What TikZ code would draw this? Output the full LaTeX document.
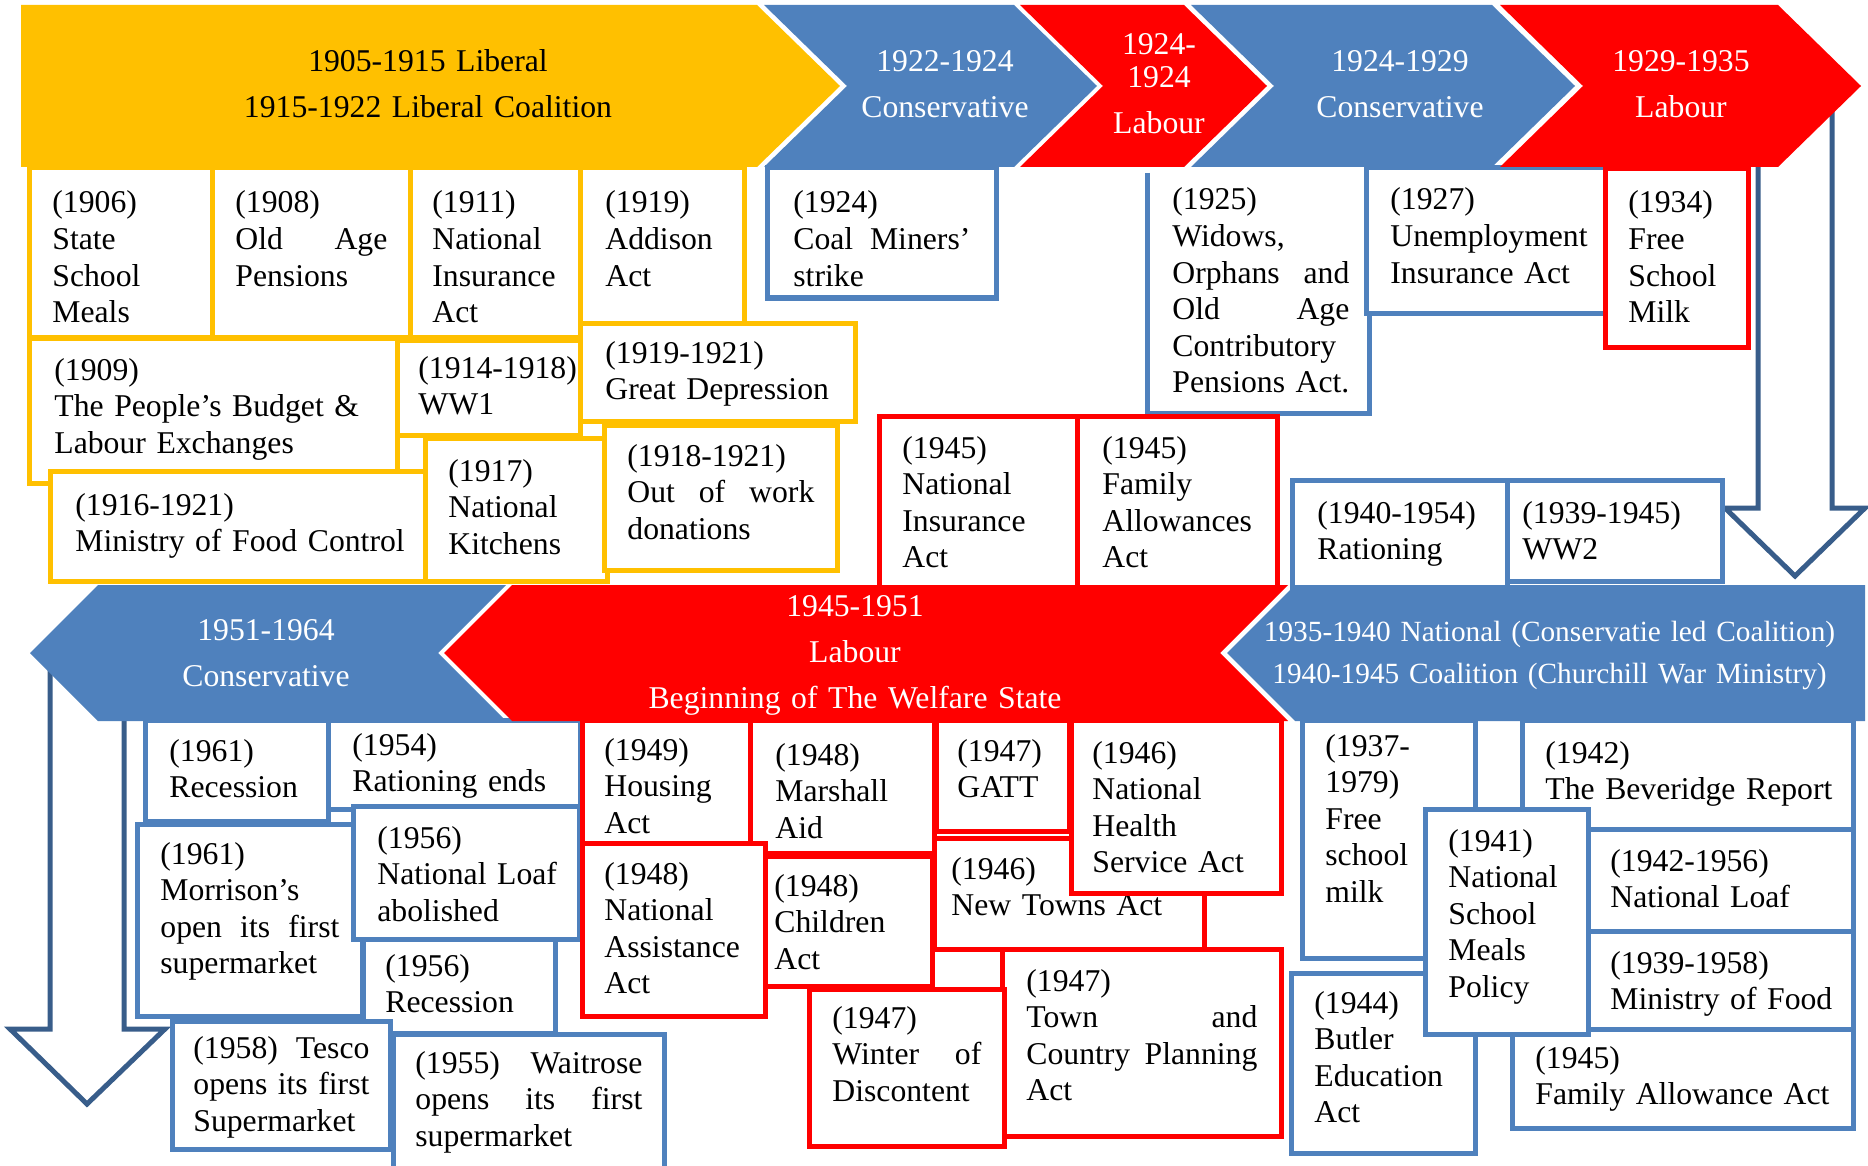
\documentclass[tikz,border=0pt]{standalone}
\usepackage{fontspec}
\setmainfont{Liberation Serif}
\definecolor{yel}{HTML}{FFC000}
\definecolor{blu}{HTML}{4F81BD}
\definecolor{rd}{HTML}{FF0000}
\definecolor{arr}{HTML}{385D8A}
% event box: [left pad]{name}{colour}{x1}{y1}{x2}{y2}{first baseline offset}{text}
\newcommand{\evbox}[9][23]{%
  \draw[evframe, draw=#3] (#4,#5) rectangle (#6,#7);
  \pgfmathsetmacro{\evw}{(#6-#4-2*#1)*0.5}%
  \node[evtext, text width=\evw pt] (#2) at ({#4+#1},{#5+#8}) {#9};%
}
\begin{document}
\begin{tikzpicture}[x=0.5pt,y=-0.5pt,
  evframe/.style={line width=2.5pt, fill=white},
  evtext/.style={anchor=base west, inner sep=0pt,
    font={\fontsize{15.85pt}{18.3pt}\selectfont\hyphenpenalty=10000 \exhyphenpenalty=10000 }},
  chevtext/.style={anchor=base, inner sep=0pt, text width=400pt, align=center, text=white,
    font=\fontsize{15.85pt}{23pt}\selectfont},
  arrowline/.style={draw=arr, line width=2.5pt, fill=white, line join=miter}]
\useasboundingbox (0,0) rectangle (1868,1166);
\clip (0,0) rectangle (1868,1166);

% hollow down arrows
\draw[arrowline] (1758,100) -- (1758,508) -- (1725,508) -- (1795,576) -- (1865,508) -- (1832,508) -- (1832,100) -- cycle;
\draw[arrowline] (50,665) -- (50,1029) -- (10,1029) -- (87,1104) -- (165,1029) -- (124,1029) -- (124,665) -- cycle;

% first period: Liberal
\evbox{e1906}{yel}{29}{168}{212}{337}{45}{(1906)\\State\\School\\Meals}
\evbox{e1908}{yel}{212}{168}{410}{337}{45}{(1908)\\Old\hfill Age\\Pensions}
\evbox[22]{e1911}{yel}{410}{168}{580}{337}{45}{(1911)\\National\\Insurance\\Act}
\evbox[25]{e1919}{yel}{580}{168}{744}{323}{45}{(1919)\\Addison\\Act}
\evbox[25]{e1909}{yel}{29}{338}{397}{483}{42}{(1909)\\The~People’s~Budget~\&\\Labour~Exchanges}
\evbox[21]{e1914}{yel}{397}{340}{580}{435}{38}{(1914-1918)\\WW1}
\evbox[25]{e1919b}{yel}{580}{323}{855}{421}{40}{(1919-1921)\\Great~Depression}
\evbox[25]{e1916}{yel}{50}{471}{427}{581}{44}{(1916-1921)\\Ministry~of~Food~Control}
\evbox{e1917}{yel}{425}{438}{607}{581}{43}{(1917)\\National\\Kitchens}
\evbox{e1918}{yel}{604}{425}{837}{570}{41}{(1918-1921)\\Out\hfill of\hfill work\\donations}

% inter-war
\evbox[26]{e1924}{blu}{767}{168}{996}{298}{45}{(1924)\\Coal\hfill Miners’\\strike}
\fill[white] (1147,170) rectangle (1369,413);
\draw[line width=2.5pt, blu] (1147,173) -- (1147,413) -- (1369,413) -- (1369,168);
\node[evtext, text width=88.5pt] (e1925) at (1172,210)
  {(1925)\\Widows,\\Orphans\hfill and\\Old\hfill Age\\Contributory\\Pensions~Act.};
\evbox[24]{e1927}{blu}{1366}{168}{1607}{313}{42}{(1927)\\Unemployment\\Insurance~Act}
\evbox{e1934}{rd}{1605}{169}{1748}{347}{44}{(1934)\\Free\\School\\Milk}

% war years and 1945
\evbox{e1945a}{rd}{879}{416}{1077}{590}{42}{(1945)\\National\\Insurance\\Act}
\evbox[25]{e1945b}{rd}{1077}{416}{1277}{590}{42}{(1945)\\Family\\Allowances\\Act}
\evbox[25]{e1940}{blu}{1292}{480}{1507}{590}{43}{(1940-1954)\\Rationing}
\evbox[15]{e1939}{blu}{1507}{480}{1722}{581}{43}{(1939-1945)\\WW2}

% 1951-1964
\evbox[24]{e1961a}{blu}{145}{720}{328}{821}{41}{(1961)\\Recession}
\evbox[24]{e1954}{blu}{328}{720}{580}{809}{35}{(1954)\\Rationing~ends}
\evbox{e1961b}{blu}{137}{824}{362}{1016}{40}{(1961)\\Morrison’s\\open\hfill its\hfill first\\supermarket}
\evbox[24]{e1956a}{blu}{353}{806}{579}{939}{42}{(1956)\\National~Loaf\\abolished}
\evbox[22]{e1956b}{blu}{363}{939}{555}{1033}{37}{(1956)\\Recession}
\evbox[21]{e1958}{blu}{172}{1021}{390}{1149}{37}{(1958)\hfill Tesco\\opens\hfill its\hfill first\\Supermarket}
\evbox[22]{e1955}{blu}{393}{1034}{664}{1180}{39}{(1955)\hfill Waitrose\\opens\hfill its\hfill first\\supermarket}

% 1945-1951
\evbox[22]{e1949}{rd}{582}{720}{750}{845}{40}{(1949)\\Housing\\Act}
\evbox[25]{e1948a}{rd}{750}{720}{934}{853}{45}{(1948)\\Marshall\\Aid}
\evbox[21]{e1947a}{rd}{936}{720}{1069}{831}{41}{(1947)\\GATT}
\evbox[17]{e1946b}{rd}{934}{838}{1204}{949}{41}{(1946)\\New~Towns~Act}
\evbox[21]{e1946a}{rd}{1071}{720}{1281}{893}{43}{(1946)\\National\\Health\\Service~Act}
\evbox[22]{e1948b}{rd}{582}{843}{765}{1016}{41}{(1948)\\National\\Assistance\\Act}
\evbox[9]{e1948c}{rd}{765}{856}{932}{986}{40}{(1948)\\Children\\Act}
\evbox[24]{e1947b}{rd}{1002}{949}{1281}{1136}{42}{(1947)\\Town\hfill and\\Country\hfill Planning\\Act}
\evbox{e1947c}{rd}{809}{989}{1004}{1146}{39}{(1947)\\Winter\hfill of\\Discontent}

% 1935-1945
\evbox{e1937}{blu}{1302}{720}{1475}{958}{36}{(1937-\\1979)\\Free\\school\\milk}
\evbox{e1942a}{blu}{1522}{720}{1853}{829}{43}{(1942)\\The~Beveridge~Report}
\evbox[22]{e1942b}{blu}{1588}{829}{1853}{931}{42}{(1942-1956)\\National~Loaf}
\evbox[22]{e1939b}{blu}{1588}{931}{1853}{1029}{42}{(1939-1958)\\Ministry~of~Food}
\evbox{e1945c}{blu}{1512}{1029}{1853}{1128}{39}{(1945)\\Family~Allowance~Act}
\evbox{e1944}{blu}{1291}{973}{1475}{1153}{40}{(1944)\\Butler\\Education\\Act}
\evbox{e1941}{blu}{1425}{809}{1588}{1034}{42}{(1941)\\National\\School\\Meals\\Policy}

% government chevrons, top row (left to right)
\fill[yel] (21,5) -- (757,5) -- (840,86) -- (757,167) -- (21,167) -- cycle;
\fill[blu] (764,5) -- (1014,5) -- (1097,86) -- (1014,167) -- (764,167) -- (847,86) -- cycle;
\fill[rd] (1020,5) -- (1184,5) -- (1267,86) -- (1184,167) -- (1020,167) -- (1103,86) -- cycle;
\fill[blu] (1191,5) -- (1492,5) -- (1575,86) -- (1492,167) -- (1191,167) -- (1274,86) -- cycle;
\fill[rd] (1500,5) -- (1778,5) -- (1861,86) -- (1778,167) -- (1500,167) -- (1583,86) -- cycle;

% government chevrons, second row (right to left)
\fill[blu] (30,653) -- (98,585) -- (506,585) -- (438,653) -- (506,721) -- (98,721) -- cycle;
\fill[rd] (444,653) -- (512,585) -- (1288,585) -- (1220,653) -- (1288,721) -- (512,721) -- cycle;
\fill[blu] (1227,653) -- (1295,585) -- (1865,585) -- (1865,721) -- (1295,721) -- cycle;

\node[chevtext, text=black] (g1) at (428,72) {1905-1915 Liberal\\1915-1922 Liberal Coalition};
\node[chevtext] (g2) at (945,72) {1922-1924\\Conservative};
\node[chevtext] (g3) at (1159,55) {1924-\\[-6.5pt]1924\\Labour};
\node[chevtext] (g4) at (1400,72) {1924-1929\\Conservative};
\node[chevtext] (g5) at (1681,72) {1929-1935\\Labour};
\node[chevtext] (g6) at (266,640) {1951-1964\\Conservative};
\node[chevtext] (g7) at (855,616) {1945-1951\\Labour\\Beginning of The Welfare State};
\node[chevtext, font=\fontsize{14.65pt}{21pt}\selectfont] (g8) at (1549.5,641)
  {1935-1940 National (Conservatie led Coalition)\\1940-1945 Coalition (Churchill War Ministry)};
\end{tikzpicture}
\end{document}
